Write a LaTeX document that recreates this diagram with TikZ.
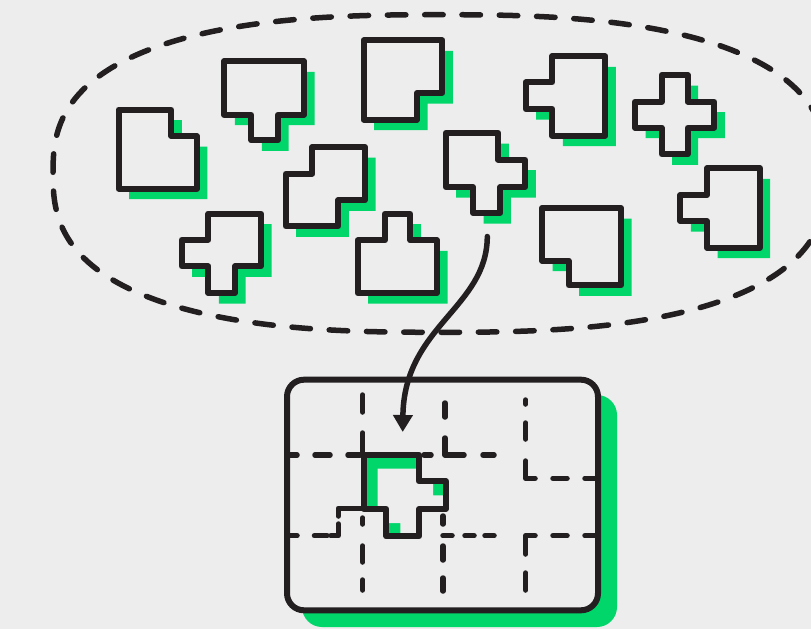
\documentclass[tikz,border=0pt]{standalone}
\usetikzlibrary{arrows.meta}
\definecolor{ink}{HTML}{231F20}
\definecolor{lime}{HTML}{00D66A}
\definecolor{paper}{HTML}{EDEDED}
\tikzset{
  piecebox/.style={fill=paper, draw=ink, line width=6pt, line join=round},
  pieceshadow/.style={fill=lime},
  hoop/.style={draw=ink, line width=5.5pt, line cap=round, dash pattern=on 18.5pt off 18.8pt},
  framebox/.style={fill=paper, draw=ink, line width=6pt, rounded corners=17pt},
  gridseg/.style={draw=ink, line width=5.5pt, line cap=round, line join=round},
  arrowline/.style={draw=ink, line width=5.5pt, line cap=round, -{Triangle[length=17pt,width=19pt]}}
}
\newcommand\puzzlepiece[1]{%
  \fill[pieceshadow, shift={(10.5,10.5)}] #1 -- cycle;
  \filldraw[piecebox] #1 -- cycle;}
\begin{document}
\begin{tikzpicture}[x=1pt,y=-1pt]
\useasboundingbox (0,0) rectangle (811,629);
\fill[paper] (0,0) rectangle (811,629);
% dashed hoop
\draw[hoop] plot[domain=0.3:358.3, samples=180, smooth cycle]
  ({440+387*cos(\x)*pow(abs(cos(\x)),-0.2308)},{173.5-158.8*sin(\x)*pow(abs(sin(\x)),-0.2308)});
% pieces
\puzzlepiece{(118.5,109.7) -- (171.3,109.7) -- (171.3,136) -- (196.8,136) -- (196.8,188.7) -- (118.5,188.7)}
\puzzlepiece{(224.3,61.3) -- (304,61.3) -- (304,114.7) -- (278,114.7) -- (278,140.3) -- (251.3,140.3) -- (251.3,114.7) -- (224.3,114.7)}
\puzzlepiece{(363.7,40.3) -- (442.3,40.3) -- (442.3,93) -- (417,93) -- (417,119.7) -- (363.7,119.7)}
\puzzlepiece{(445.7,133) -- (498.3,133) -- (498.3,159.7) -- (525.3,159.7) -- (525.3,187) -- (500.3,187) -- (500.3,213) -- (473,213) -- (473,187) -- (445.7,187)}
\puzzlepiece{(552.3,56.3) -- (605.3,56.3) -- (605.3,135.7) -- (552.3,135.7) -- (552.3,109) -- (525.7,109) -- (525.7,82.3) -- (552.3,82.3)}
\puzzlepiece{(661.7,75) -- (687.7,75) -- (687.7,101.7) -- (714.3,101.7) -- (714.3,127.7) -- (687.7,127.7) -- (687.7,154.3) -- (661.7,154.3) -- (661.7,127.7) -- (635,127.7) -- (635,101.7) -- (661.7,101.7)}
\puzzlepiece{(707,168.3) -- (759.7,168.3) -- (759.7,247.7) -- (707,247.7) -- (707,221) -- (680.3,221) -- (680.3,195) -- (707,195)}
\puzzlepiece{(542,208) -- (621,208) -- (621,285.3) -- (568.7,285.3) -- (568.7,260.7) -- (542,260.7)}
\puzzlepiece{(312.3,147) -- (365,147) -- (365,200.3) -- (338.3,200.3) -- (338.3,226.3) -- (285.7,226.3) -- (285.7,173.7) -- (312.3,173.7)}
\puzzlepiece{(208.3,213.7) -- (261,213.7) -- (261,266.3) -- (235,266.3) -- (235,293) -- (208.3,293) -- (208.3,266.3) -- (181.7,266.3) -- (181.7,239.7) -- (208.3,239.7)}
\puzzlepiece{(357.7,240.3) -- (385,240.3) -- (385,213.7) -- (410.3,213.7) -- (410.3,240.3) -- (437,240.3) -- (437,293) -- (357.7,293)}
% board
\fill[lime, rounded corners=20pt] (302,395) rectangle (617,627);
\filldraw[framebox] (287,379.7) rectangle (598,610.3);
% grid dashes
\draw[gridseg] (362.7,395) -- (362.7,412);
\draw[gridseg] (362.7,433) -- (362.7,454);
\draw[gridseg] (289,455) -- (297,455);
\draw[gridseg] (315,455) -- (330,455);
\draw[gridseg] (348,455) -- (360,455);
\draw[gridseg] (424,455) -- (431,455);
\draw[gridseg] (445,403) -- (445,417);
\draw[gridseg] (445,438) -- (445,455) -- (464,455);
\draw[gridseg] (483,455) -- (494,455);
\draw[gridseg] (525.7,400) -- (525.7,404);
\draw[gridseg] (525.7,423) -- (525.7,439);
\draw[gridseg] (525.7,461) -- (525.7,478.3) -- (535,478.3);
\draw[gridseg] (553,478.3) -- (567,478.3);
\draw[gridseg] (585,478.3) -- (596,478.3);
\draw[gridseg] (289,535.7) -- (297,535.7);
\draw[gridseg] (314.5,535.7) -- (327,535.7);
\draw[gridseg] (331,535.7) -- (338.3,535.7) -- (338.3,524);
\draw[gridseg] (338.3,516) -- (338.3,508.3) -- (362,508.3);
\draw[gridseg] (362.7,518) -- (362.7,524);
\draw[gridseg] (362.7,546) -- (362.7,562);
\draw[gridseg] (362.7,580) -- (362.7,590);
\draw[gridseg] (443,516) -- (443,524);
\draw[gridseg] (443,546) -- (443,560);
\draw[gridseg] (443,578) -- (443,591);
\draw[gridseg] (443,535.7) -- (452,535.7);
\draw[gridseg] (465,535.7) -- (474,535.7);
\draw[gridseg] (485,535.7) -- (494,535.7);
\draw[gridseg] (585,535.7) -- (596,535.7);
\draw[gridseg] (553,535.7) -- (567,535.7);
\draw[gridseg] (535,535.7) -- (525.7,535.7) -- (525.7,554);
\draw[gridseg] (525.7,573) -- (525.7,590);
% placed piece
\def\slotshape{(363.7,454.7) -- (419,454.7) -- (419,481.3) -- (445.7,481.3) -- (445.7,509) -- (419,509) -- (419,536.3) -- (386.3,536.3) -- (386.3,509) -- (363.7,509) -- cycle}
\fill[lime] \slotshape;
\begin{scope}
  \clip \slotshape;
  \fill[paper, shift={(14,14)}] \slotshape;
\end{scope}
\draw[piecebox, fill=none] \slotshape;
% arrow
\coordinate (arrowstart) at (487.3,236.5);
\coordinate (arrowend) at (402.7,432);
\draw[arrowline] (arrowstart) .. controls (487,308) and (404,326) .. (arrowend);
\end{tikzpicture}
\end{document}
